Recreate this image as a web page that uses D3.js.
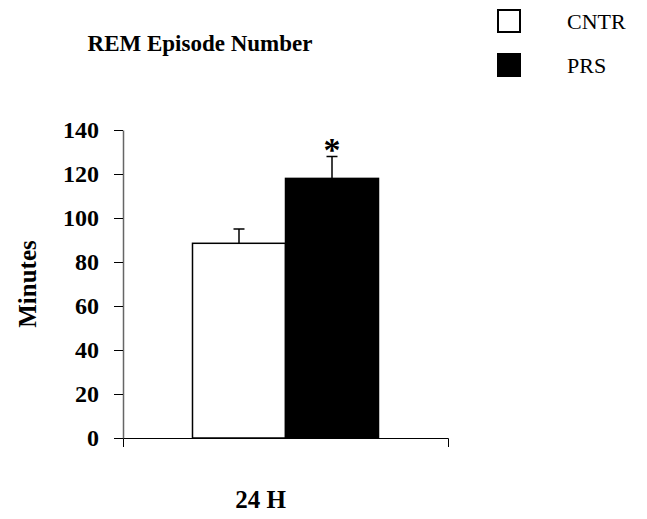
<!DOCTYPE html>
<html>
<head>
  <meta charset="utf-8">
  <title>REM Episode Number</title>
  <script src="https://d3js.org/d3.v7.min.js"></script>
  <style>
    body { margin: 0; background: #fff; }
    text { font-family: "Liberation Serif", "Times New Roman", serif; }
  </style>
</head>
<body>
  <div id="chart"></div>

  <script>
    // dati
    var categories = ["24 H"];
    var groups = ["CNTR", "PRS"];
    var means = [88.5, 118];
    var errors = [6.5, 10];
    var yTicks = [0, 20, 40, 60, 80, 100, 120, 140];
    var signif = ["", "*"];

    var W = 647, H = 519;
    var margin = { top: 130, right: 199, bottom: 81, left: 123 };
    var width = W - margin.left - margin.right;
    var height = H - margin.top - margin.bottom;

    var svg = d3.select("#chart")
                .append("svg")
                .attr("width", W)
                .attr("height", H);

    var g = svg.append("g")
               .attr("transform", "translate(" + margin.left + "," + margin.top + ")");

    // scale
    var x0 = d3.scaleBand().domain(categories).range([0, width]).padding(0.272);
    var x1 = d3.scaleBand().domain(groups).range([0, x0.bandwidth()]).padding(0);
    var y = d3.scaleLinear().domain([0, 140]).range([height, 0]);

    var data = groups.map((k, i) => ({ cat: categories[0], key: k, mean: means[i], err: errors[i], sig: signif[i] }));

    // barre
    g.selectAll(".bar")
     .data(data)
     .enter().append("rect")
     .attr("class", "bar")
     .attr("x", d => x0(d.cat) + x1(d.key))
     .attr("width", x1.bandwidth())
     .attr("y", d => y(d.mean))
     .attr("height", d => height - y(d.mean))
     .attr("fill", (d, i) => i === 0 ? "#fff" : "#000")
     .attr("stroke", "#000")
     .attr("stroke-width", 1.5);

    // barre di errore
    var cx = d => x0(d.cat) + x1(d.key) + x1.bandwidth() / 2;
    g.selectAll(".err")
     .data(data)
     .enter().append("path")
     .attr("class", "err")
     .attr("d", d => "M" + cx(d) + "," + y(d.mean) + "V" + y(d.mean + d.err) +
                     "M" + (cx(d) - 5.5) + "," + y(d.mean + d.err) + "H" + (cx(d) + 5.5))
     .attr("stroke", "#000")
     .attr("stroke-width", 1.5)
     .attr("fill", "none");

    // asterisco
    g.selectAll(".sig")
     .data(data)
     .enter().append("text")
     .attr("class", "sig")
     .attr("x", cx)
     .attr("y", d => y(d.mean + d.err) + 5)
     .attr("text-anchor", "middle")
     .attr("font-size", 34)
     .attr("font-weight", "bold")
     .text(d => d.sig);

    // asse y
    var yAxis = g.append("g")
                 .call(d3.axisLeft(y).tickValues(yTicks).tickSize(9).tickSizeOuter(0).tickPadding(15));
    yAxis.select(".domain").attr("stroke", "#666").attr("stroke-width", 1.5);
    yAxis.selectAll("text")
         .attr("font-size", 24)
         .attr("font-weight", "bold")
         .attr("fill", "#000")
         .style("font-family", "Liberation Serif, serif");

    // asse x
    var xAxis = g.append("g")
                 .attr("transform", "translate(0," + height + ")")
                 .call(d3.axisBottom(x0).tickSizeInner(0).tickSizeOuter(9).tickPadding(52));
    xAxis.selectAll("text")
         .attr("font-size", 25)
         .attr("font-weight", "bold")
         .attr("fill", "#000")
         .attr("dx", -25)
         .style("font-family", "Liberation Serif, serif");

    // titolo asse y
    svg.append("text")
       .attr("transform", "translate(36,284) rotate(-90)")
       .attr("text-anchor", "middle")
       .attr("font-size", 25)
       .attr("font-weight", "bold")
       .text("Minutes");

    // titolo
    svg.append("text")
       .attr("x", 200)
       .attr("y", 51)
       .attr("text-anchor", "middle")
       .attr("font-size", 23)
       .attr("font-weight", "bold")
       .text("REM Episode Number");

    // legenda
    var leg = svg.selectAll(".leg")
                 .data(groups)
                 .enter().append("g")
                 .attr("class", "leg")
                 .attr("transform", (d, i) => "translate(498," + (10 + i * 44) + ")");
    leg.append("rect")
       .attr("width", 22)
       .attr("height", 22)
       .attr("fill", (d, i) => i === 0 ? "#fff" : "#000")
       .attr("stroke", "#000")
       .attr("stroke-width", 2);
    leg.append("text")
       .attr("x", 69)
       .attr("y", 19)
       .attr("font-size", 22)
       .text(d => d);
  </script>
</body>
</html>
